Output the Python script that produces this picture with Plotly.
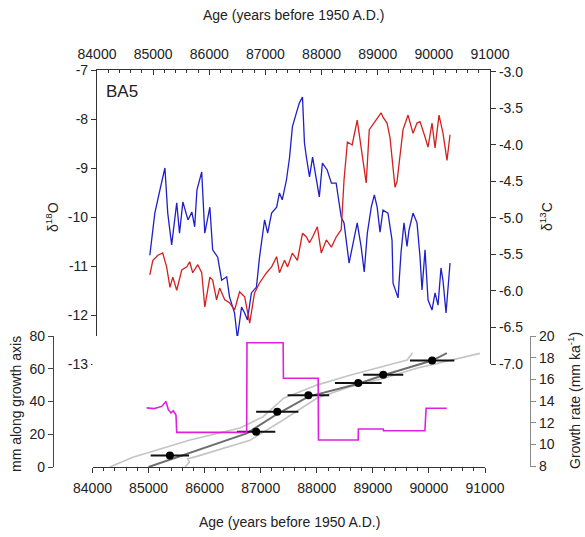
import plotly.graph_objects as go

# ---------------- data ----------------
# delta18O (blue, left axis), top panel
d18o_age = [84941, 85030, 85120, 85210, 85260, 85330, 85420, 85470, 85530, 85620, 85690, 85740,
            85780, 85865, 85920, 86010, 86060, 86150, 86220, 86310, 86360, 86450, 86500, 86575,
            86630, 86680, 86750, 86840, 86895, 86985, 87040, 87110, 87200, 87250, 87300, 87375,
            87430, 87480, 87550, 87605, 87660, 87695, 87730, 87785, 87840, 87910, 87960, 88015,
            88100, 88175, 88260, 88350, 88400, 88490, 88580, 88635, 88705, 88760, 88815, 88885,
            88940, 88990, 89041, 89094, 89183, 89255, 89273, 89362, 89415, 89468, 89522, 89557,
            89629, 89700, 89754, 89789, 89843, 89896, 89967, 90021, 90074, 90127, 90163, 90217,
            90288]
d18o_val = [-10.78, -9.92, -9.45, -9.0, -9.92, -10.57, -9.71, -10.33, -9.69, -10.06, -9.9, -10.2,
            -9.45, -9.08, -10.33, -9.8, -10.67, -10.82, -11.29, -11.22, -11.63, -11.96, -12.47, -11.84,
            -11.96, -12.1, -11.55, -11.43, -10.82, -10.06, -10.33, -9.92, -9.8, -9.51, -9.65, -9.24,
            -8.78, -8.16, -7.88, -7.67, -7.55, -8.49, -8.78, -9.18, -8.78, -9.24, -9.59, -8.9,
            -9.04, -9.31, -9.31, -10.0, -10.12, -10.94, -10.47, -10.12, -10.61, -11.12, -10.33, -9.8,
            -9.55, -9.8, -10.31, -9.86, -9.92, -10.47, -11.35, -11.65, -10.73, -10.12, -10.6, -10.27,
            -9.92, -10.12, -10.82, -11.49, -10.67, -11.69, -11.9, -11.55, -11.8, -11.04, -11.3, -11.96,
            -10.94]

# delta13C (red, right axis), top panel
d13c_age = [84941, 84995, 85085, 85170, 85240, 85300, 85350, 85420, 85510, 85600, 85650, 85705,
            85795, 85865, 85920, 86010, 86060, 86130, 86185, 86275, 86360, 86450, 86540, 86630,
            86720, 86805, 86895, 87020, 87110, 87200, 87250, 87340, 87395, 87480, 87570, 87660,
            87730, 87785, 87840, 87925, 87995, 88085, 88175, 88260, 88350, 88400, 88460, 88545,
            88635, 88705, 88760, 88795, 88850, 88905, 88990, 89060, 89094, 89166, 89219, 89273,
            89308, 89344, 89397, 89451, 89540, 89629, 89700, 89754, 89843, 89896, 89967, 90021,
            90092, 90163, 90234, 90288]
d13c_val = [-5.78, -5.58, -5.51, -5.48, -5.67, -5.95, -5.81, -5.99, -5.71, -5.67, -5.6, -5.75,
            -5.64, -5.75, -6.22, -5.81, -5.85, -6.12, -5.96, -6.12, -6.16, -6.26, -6.01, -6.08,
            -6.44, -6.03, -5.89, -5.75, -5.67, -5.53, -5.75, -5.58, -5.67, -5.48, -5.58, -5.21,
            -5.26, -5.34, -5.26, -5.12, -5.48, -5.3, -5.4, -5.26, -5.16, -4.48, -3.96, -4.0,
            -3.66, -4.03, -4.38, -4.52, -3.79, -3.73, -3.62, -3.56, -3.62, -3.7, -3.9, -4.38,
            -4.58, -4.5, -4.11, -3.79, -3.59, -3.84, -3.7, -3.68, -3.89, -4.03, -3.7, -4.04,
            -3.59, -3.84, -4.21, -3.86]

# growth rate (magenta, right lower axis)
gr_age = [84967, 85100, 85234, 85311, 85352, 85400, 85441, 85489, 85502, 86750, 86755, 87400,
          87405, 88025, 88030, 88738, 88742, 89186, 89190, 89928, 89950, 90317]
gr_val = [13.37, 13.3, 13.5, 13.95, 13.2, 12.9, 13.1, 12.7, 11.1, 11.1, 19.38, 19.38,
          16.1, 16.1, 10.4, 10.4, 11.42, 11.42, 11.26, 11.26, 13.33, 13.33]

# dated points with age uncertainty (mm along growth axis)
pt_age = [85380, 86918, 87295, 87850, 88740, 89185, 90057]
pt_mm = [7.0, 21.6, 33.8, 43.8, 51.3, 56.4, 65.0]
pt_err = [342, 342, 377, 371, 416, 357, 396]

# age model (dark gray) and confidence limits (light gray)
model_age = [85000, 86750, 87300, 87850, 88740, 89185, 90057, 90320]
model_mm = [0, 20.5, 32.5, 43.0, 50.8, 56.0, 65.0, 69.6]
upper_age = [84310, 84720, 85150, 85740, 86630, 87040, 87410, 88000, 88590, 89190, 89610, 89710]
upper_mm = [0, 6, 10.4, 16.5, 23.8, 30.6, 42, 50, 56, 61.2, 65.3, 69.8]
lower_age = [85650, 85730, 85700, 85860, 86810, 87400, 88000, 88590, 89180, 89780, 90910]
lower_mm = [0, 3, 5, 6.5, 16.3, 28.7, 42, 49, 54, 60.3, 69.4]

# tick labels
x_ticks = [84000, 85000, 86000, 87000, 88000, 89000, 90000, 91000]
x_ticktext = ["84000", "85000", "86000", "87000", "88000", "89000", "90000", "91000"]
o_ticks = [-13, -12, -11, -10, -9, -8, -7]
o_ticktext = ["-13", "-12", "-11", "-10", "-9", "-8", "-7"]
c_ticks = [-7.0, -6.5, -6.0, -5.5, -5.0, -4.5, -4.0, -3.5, -3.0]
c_ticktext = ["-7.0", "-6.5", "-6.0", "-5.5", "-5.0", "-4.5", "-4.0", "-3.5", "-3.0"]
mm_ticks = [0, 20, 40, 60, 80]
gr_ticks = [8, 10, 12, 14, 16, 18, 20]

# ---------------- figure ----------------
W, H = 585, 537
FONT = "Liberation Sans, Arial, sans-serif"
TXT = "#222222"
FS = 14


def fx(px):
    return px / W


def fy(py):
    return 1 - py / H


fig = go.Figure()

fig.add_trace(go.Scatter(x=d18o_age, y=d18o_val, mode="lines", xaxis="x", yaxis="y",
                         line=dict(color="#1f1fc8", width=1.3)))
fig.add_trace(go.Scatter(x=d13c_age, y=d13c_val, mode="lines", xaxis="x", yaxis="y2",
                         line=dict(color="#d42020", width=1.3)))

fig.add_trace(go.Scatter(x=upper_age, y=upper_mm, mode="lines", xaxis="x2", yaxis="y3",
                         line=dict(color="#c4c4c4", width=1.6)))
fig.add_trace(go.Scatter(x=lower_age, y=lower_mm, mode="lines", xaxis="x2", yaxis="y3",
                         line=dict(color="#c4c4c4", width=1.6)))
fig.add_trace(go.Scatter(x=model_age, y=model_mm, mode="lines", xaxis="x2", yaxis="y3",
                         line=dict(color="#6e6e6e", width=2)))
fig.add_trace(go.Scatter(x=pt_age, y=pt_mm, mode="markers", xaxis="x2", yaxis="y3",
                         marker=dict(color="black", size=8),
                         error_x=dict(type="data", array=pt_err, color="#111111",
                                      thickness=2, width=0)))
fig.add_trace(go.Scatter(x=gr_age, y=gr_val, mode="lines", xaxis="x2", yaxis="y4",
                         line=dict(color="#e020e0", width=1.6)))

axis_common = dict(showgrid=False, zeroline=False, showline=True, linewidth=1.2,
                   automargin=False,
                   tickfont=dict(family=FONT, size=FS, color=TXT))

fig.update_layout(
    width=W, height=H,
    margin=dict(l=0, r=0, t=0, b=0, pad=0),
    paper_bgcolor="white", plot_bgcolor="white",
    showlegend=False,
    font=dict(family=FONT, color=TXT),
    xaxis=dict(domain=[fx(97), fx(490)], range=[84000, 91000], anchor="y", side="top",
               linecolor="#333333", ticks="inside", ticklen=5, tickcolor="#333333",
               tickvals=x_ticks, ticktext=x_ticktext, ticklabelstandoff=4,
               minor=dict(dtick=200, tick0=84000, ticks="inside", ticklen=3, tickcolor="#333333"),
               **axis_common),
    yaxis=dict(domain=[fy(364), fy(70)], range=[-13, -7], anchor="x", side="left",
               linecolor="#333333", ticks="outside", ticklen=5, tickcolor="#333333",
               tickvals=o_ticks, ticktext=o_ticktext, **axis_common),
    yaxis2=dict(overlaying="y", range=[-7, -2.973], anchor="x", side="right",
                linecolor="#333333", ticks="outside", ticklen=5, tickcolor="#333333",
                tickvals=c_ticks, ticktext=c_ticktext, **axis_common),
    xaxis2=dict(domain=[fx(92.5), fx(485)], range=[84000, 91000], anchor="y3", side="bottom",
                linecolor="#333333", ticks="outside", ticklen=5, tickcolor="#333333",
                tickvals=x_ticks, ticktext=x_ticktext, ticklabelstandoff=3,
                minor=dict(dtick=200, tick0=84000, ticks="outside", ticklen=3, tickcolor="#333333"),
                **axis_common),
    yaxis3=dict(domain=[fy(467), fy(336)], range=[0, 80], anchor="free", position=fx(53),
                side="left", linecolor="#444444", ticks="outside", ticklen=5, tickcolor="#444444",
                tickvals=mm_ticks, **axis_common),
    yaxis4=dict(overlaying="y3", range=[7.908, 20], anchor="free", position=fx(530),
                side="right", linecolor="#8a8a8a", ticks="outside", ticklen=5, tickcolor="#8a8a8a",
                tickvals=gr_ticks, **axis_common),
)

ann = [
    dict(text="Age (years before 1950 A.D.)", x=fx(293.5), y=fy(15), size=FS, angle=0),
    dict(text="Age (years before 1950 A.D.)", x=fx(289), y=fy(522), size=FS, angle=0),
    dict(text="δ<sup>18</sup>O", x=fx(52), y=fy(217), size=FS, angle=-90),
    dict(text="δ<sup>13</sup>C", x=fx(546), y=fy(217), size=FS, angle=-90),
    dict(text="mm along growth axis", x=fx(16), y=fy(404), size=FS, angle=-90),
    dict(text="Growth rate (mm ka<sup>-1</sup>)", x=fx(574), y=fy(401), size=FS, angle=-90),
    dict(text="BA5", x=fx(122), y=fy(91), size=17, angle=0),
]
for a in ann:
    fig.add_annotation(text=a["text"], x=a["x"], y=a["y"], xref="paper", yref="paper",
                       showarrow=False, textangle=a["angle"], xanchor="center", yanchor="middle",
                       font=dict(family=FONT, size=a["size"], color=TXT))

fig.write_html("out.html")
